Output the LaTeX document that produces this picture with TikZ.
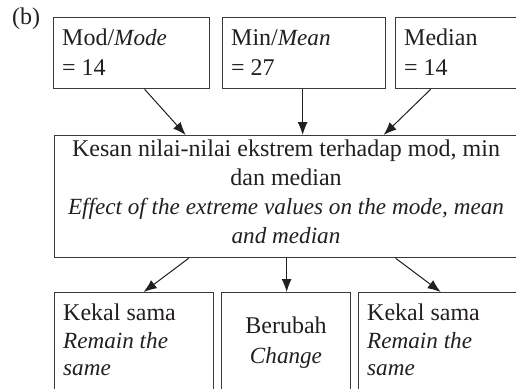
\documentclass[tikz,border=0pt]{standalone}
\usepackage{fontspec}
\setmainfont{Liberation Serif}[ItalicFeatures={Scale=0.965}]
\usetikzlibrary{arrows.meta}
\definecolor{ink}{HTML}{231F20}
\definecolor{boxline}{HTML}{3A3A3A}
\tikzset{
  box/.style={draw=boxline, line width=1.3pt, rectangle, inner sep=0pt, anchor=north west},
  txt/.style={inner sep=0pt, text=ink, font=\fontsize{24}{29}\selectfont},
  lt/.style={txt, anchor=base west},
  ct/.style={txt, anchor=base},
  arr/.style={draw=ink, line width=1pt, -{Latex[length=13pt,width=10pt]}}
}
\begin{document}
\begin{tikzpicture}[x=1pt,y=-1pt]
\useasboundingbox[clip] (0,0) rectangle (516,388);
\fill[white] (0,0) rectangle (516,388);
% label
\node[lt] (lbl) at (12,24) {(b)};
% top boxes
\node[box, minimum width=156pt, minimum height=71pt] (t1) at (53,17) {};
\node[box, minimum width=163pt, minimum height=71pt] (t2) at (222,17) {};
\node[box, minimum width=160pt, minimum height=71pt] (t3) at (395,17) {};
\node[lt] (t1a) at (62,45) {Mod/\textit{Mode}};
\node[lt] (t1b) at (62,75) {= 14};
\node[lt] (t2a) at (231,45) {Min/\textit{Mean}};
\node[lt] (t2b) at (231,75) {= 27};
\node[lt] (t3a) at (404,45) {Median};
\node[lt] (t3b) at (404,75) {= 14};
% middle box
\node[box, minimum width=500pt, minimum height=122pt] (m) at (54,135) {};
\node[ct] (m1) at (286,156) {Kesan nilai-nilai ekstrem terhadap mod, min};
\node[ct] (m2) at (286,185) {dan median};
\node[ct] (m3) at (286,214) {\textit{Effect of the extreme values on the mode, mean}};
\node[ct] (m4) at (286,243) {\textit{and median}};
% bottom boxes
\node[box, minimum width=159pt, minimum height=120pt] (b1) at (54,292) {};
\node[box, minimum width=129pt, minimum height=120pt] (b2) at (221,292) {};
\node[box, minimum width=190pt, minimum height=120pt] (b3) at (358,292) {};
\node[lt] (b1a) at (63,320) {Kekal sama};
\node[lt] (b1b) at (63,348) {\textit{Remain the}};
\node[lt] (b1c) at (63,375) {\textit{same}};
\node[ct] (b2a) at (286,333) {Berubah};
\node[ct] (b2b) at (286,363) {\textit{Change}};
\node[lt] (b3a) at (367,320) {Kekal sama};
\node[lt] (b3b) at (367,348) {\textit{Remain the}};
\node[lt] (b3c) at (367,375) {\textit{same}};
% arrows
\draw[arr] ([xshift=13pt]t1.south) -- ([xshift=-119pt]m.north);
\draw[arr] ([xshift=-1.5pt]t2.south) -- ([xshift=-2pt]m.north);
\draw[arr] ([xshift=-45pt]t3.south) -- ([xshift=79pt]m.north);
\draw[arr] ([xshift=-116pt]m.south) -- ([xshift=9.5pt]b1.north);
\draw[arr] ([xshift=-18pt]m.south) -- ([xshift=0.5pt]b2.north);
\draw[arr] ([xshift=91pt]m.south) -- ([xshift=-13pt]b3.north);
\end{tikzpicture}
\end{document}
